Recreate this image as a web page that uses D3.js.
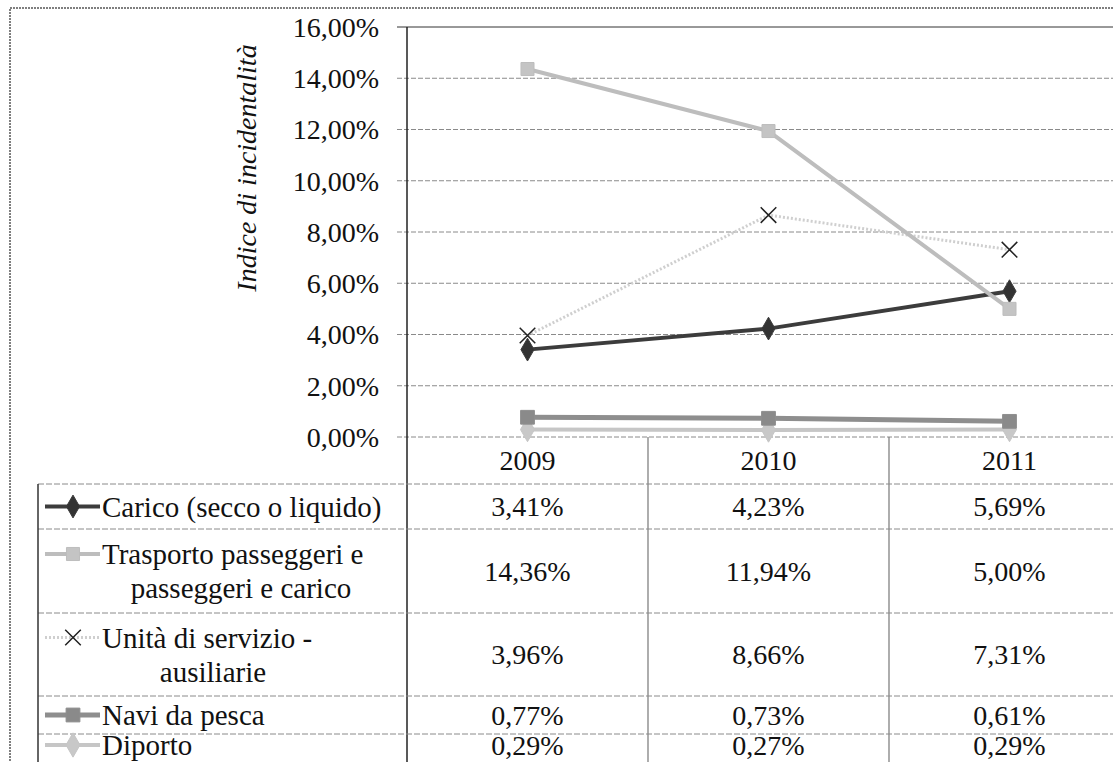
<!DOCTYPE html>
<html>
<head>
<meta charset="utf-8">
<script src="https://cdn.jsdelivr.net/npm/d3@7"></script>
<style>
  body { margin: 0; background: #fff; }
  svg { display: block; }
  svg text { font-family: 'Liberation Serif', 'Liberation Sans', Arial, sans-serif; }
  .grid line { stroke: #8a8a8a; stroke-width: 1; stroke-dasharray: 5,2; }
  .tablerule { stroke: #8a8a8a; stroke-width: 1; stroke-dasharray: 6,2; }
</style>
</head>
<body>
<script>
// Data
var years = ["2009", "2010", "2011"];
var seriesNames = ["Carico (secco o liquido)", "Trasporto passeggeri e|passeggeri e carico", "Unità di servizio -|ausiliarie", "Navi da pesca", "Diporto"];
var carico = [3.41, 4.23, 5.69];
var trasporto = [14.36, 11.94, 5.00];
var unita = [3.96, 8.66, 7.31];
var navi = [0.77, 0.73, 0.61];
var diporto = [0.29, 0.27, 0.29];
var yTicks = [0, 2, 4, 6, 8, 10, 12, 14, 16];

var width = 1113, height = 762;

var svg = d3.select("body").append("svg")
    .attr("width", width)
    .attr("height", height);

// scales
var yScale = d3.scaleLinear().domain([0, 16]).range([437, 27]);
var xScale = d3.scaleBand().domain(years).range([407, 1130]).padding(0);
var xc = function(y) { return xScale(y) + xScale.bandwidth() / 2; };

function fmt(v) { return v.toFixed(2).replace(".", ",") + "%"; }

// style per series
var styles = [
  {values: carico,    color: "#3c3c3c", w: 4, dash: null,  sym: d3.symbolDiamond, size: 150, mfill: "#333"},
  {values: trasporto, color: "#bdbdbd", w: 4, dash: null,  sym: d3.symbolSquare,  size: 170, mfill: "#c4c4c4"},
  {values: unita,     color: "#cfcfcf", w: 3, dash: "2,2", sym: d3.symbolX,       size: 160, mfill: "#222"},
  {values: navi,      color: "#8e8e8e", w: 5, dash: null,  sym: d3.symbolSquare,  size: 190, mfill: "#8a8a8a"},
  {values: diporto,   color: "#c6c6c6", w: 4, dash: null,  sym: d3.symbolDiamond, size: 170, mfill: "#c8c8c8"}
];

// outer frame
svg.append("rect")
    .attr("x", 10).attr("y", 8)
    .attr("width", width).attr("height", height)
    .attr("fill", "none")
    .attr("stroke", "#555")
    .attr("stroke-dasharray", "2,1")
    .attr("stroke-width", 1.5);

// gridlines
svg.append("g").attr("class", "grid")
  .selectAll("line").data(yTicks).enter().append("line")
    .attr("x1", 397).attr("x2", width)
    .attr("y1", function(d) { return yScale(d); })
    .attr("y2", function(d) { return yScale(d); })
    .style("stroke", function(d) { return d == 16 ? "#333" : null; })
    .style("stroke-dasharray", function(d) { return d == 16 ? "none" : null; });

// y axis labels
svg.append("g").selectAll("text").data(yTicks).enter().append("text")
    .attr("x", 379)
    .attr("y", function(d) { return yScale(d); })
    .attr("dy", "0.35em")
    .attr("text-anchor", "end")
    .attr("font-size", 28)
    .attr("fill", "#111")
    .text(fmt);

// axis title
svg.append("text")
    .attr("transform", "translate(256," + 168 + ")rotate(-90)")
    .attr("text-anchor", "middle")
    .attr("font-size", 28)
    .attr("font-style", "italic")
    .attr("fill", "#111")
    .text("Indice di incidentalità");

// axis line (continues as table column rule)
svg.append("line")
    .attr("x1", 407).attr("x2", 407)
    .attr("y1", yScale(16)).attr("y2", height)
    .attr("stroke", "#222").attr("stroke-width", 1.5);

// category column rules
svg.append("g").selectAll("line").data(years.slice(1)).enter().append("line")
    .attr("x1", function(d) { return xScale(d); })
    .attr("x2", function(d) { return xScale(d); })
    .attr("y1", yScale(0)).attr("y2", height)
    .attr("stroke", "#777").attr("stroke-width", 1.2);

// category labels
svg.append("g").selectAll("text").data(years).enter().append("text")
    .attr("x", xc)
    .attr("y", 460)
    .attr("dy", "0.35em")
    .attr("text-anchor", "middle")
    .attr("font-size", 28)
    .attr("fill", "#111")
    .text(function(d) { return d; });

// lines, bottom series drawn first
var line = d3.line()
    .x(function(d, i) { return xc(years[i]); })
    .y(function(d) { return yScale(d); });

var order = [4, 3, 2, 0, 1];
order.forEach(function(k) {
  var s = styles[k];
  svg.append("path")
      .datum(s.values)
      .attr("d", line)
      .attr("fill", "none")
      .attr("stroke", s.color)
      .attr("stroke-width", s.w)
      .attr("stroke-dasharray", s.dash);
});

function drawMarker(g, s, x, y) {
  var p = g.append("path")
      .attr("transform", "translate(" + x + "," + y + ")")
      .attr("d", d3.symbol().type(s.sym).size(s.size)());
  if (s.sym === d3.symbolX) {
    p.attr("fill", "none").attr("stroke", s.mfill).attr("stroke-width", 1.5);
  } else {
    p.attr("fill", s.mfill).attr("stroke", s.color).attr("stroke-width", 1);
  }
}

order.forEach(function(k) {
  var s = styles[k];
  s.values.forEach(function(v, i) {
    drawMarker(svg, s, xc(years[i]), yScale(v));
  });
});

// data table
var rowEdges = [484, 529, 613, 696, 734, 756];

svg.append("g").selectAll("line").data(rowEdges.slice(0, 5)).enter().append("line")
    .attr("class", "tablerule")
    .attr("x1", 38).attr("x2", width)
    .attr("y1", function(d) { return d; })
    .attr("y2", function(d) { return d; });

svg.append("line")
    .attr("x1", 38).attr("x2", 38)
    .attr("y1", rowEdges[0]).attr("y2", height)
    .attr("stroke", "#333").attr("stroke-width", 1.5);

seriesNames.forEach(function(name, r) {
  var s = styles[r];
  var top = rowEdges[r], bot = rowEdges[r + 1];
  var parts = name.split("|");
  var lineH = 34;
  var cy = (top + bot) / 2;
  var firstY = cy - (parts.length - 1) * lineH / 2;

  // legend key
  var key = svg.append("g");
  key.append("line")
      .attr("x1", 45).attr("x2", 100)
      .attr("y1", firstY).attr("y2", firstY)
      .attr("stroke", s.color)
      .attr("stroke-width", s.w)
      .attr("stroke-dasharray", s.dash);
  drawMarker(key, s, 73, firstY);

  svg.append("text")
      .attr("x", 102).attr("y", firstY)
      .attr("dy", "0.35em")
      .attr("font-size", 29)
      .attr("fill", "#111")
      .text(parts[0]);
  if (parts.length > 1) {
    svg.append("text")
        .attr("x", r == 1 ? 241 : 213).attr("y", firstY + lineH)
        .attr("dy", "0.35em")
        .attr("text-anchor", "middle")
        .attr("font-size", 29)
        .attr("fill", "#111")
        .text(parts[1]);
  }

  svg.append("g").selectAll("text").data(s.values).enter().append("text")
      .attr("x", function(d, i) { return xc(years[i]); })
      .attr("y", cy)
      .attr("dy", "0.35em")
      .attr("text-anchor", "middle")
      .attr("font-size", 28)
      .attr("fill", "#111")
      .text(fmt);
});
</script>
</body>
</html>
